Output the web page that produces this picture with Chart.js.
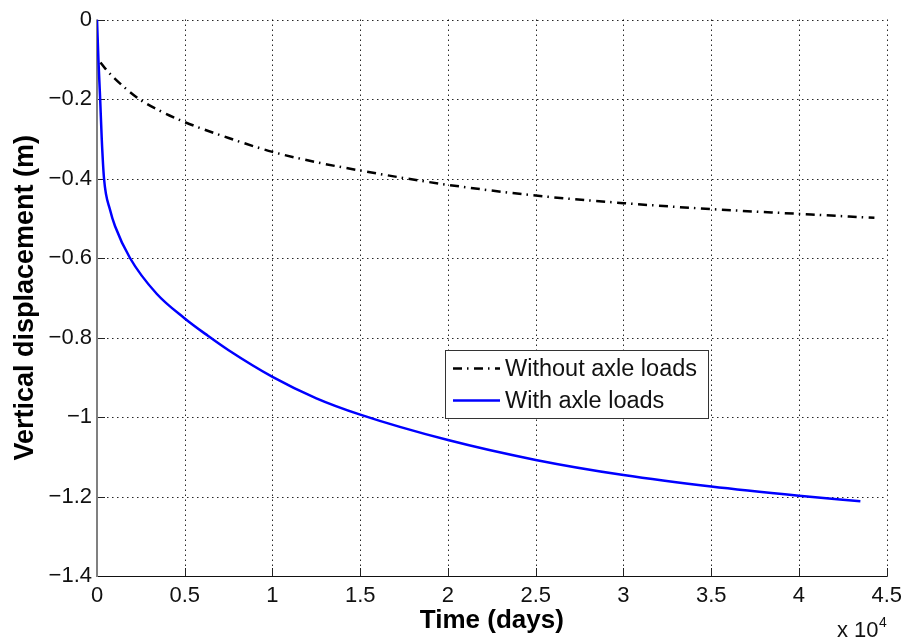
<!DOCTYPE html>
<html>
<head>
<meta charset="utf-8">
<script src="https://cdn.jsdelivr.net/npm/chart.js@4.4.0/dist/chart.umd.min.js"></script>
<style>
  html, body { margin: 0; padding: 0; background: #ffffff; }
  #wrap { width: 909px; height: 639px; position: relative; }
</style>
</head>
<body>
<div id="wrap"><canvas id="chart" width="909" height="639"></canvas></div>
<script>
// Time in units of 10^4 days, vertical displacement in metres
const timeNoAxle = [0.02, 0.05, 0.1, 0.17, 0.246, 0.35, 0.5, 0.75, 1.0, 1.25, 1.5, 1.75, 2.0, 2.5, 3.0, 3.5, 4.0, 4.43];
const dispNoAxle = [-0.108, -0.125, -0.148, -0.176, -0.202, -0.228, -0.258, -0.298, -0.333, -0.359, -0.380, -0.399, -0.416, -0.443, -0.462, -0.477, -0.489, -0.499];

const timeAxle = [0, 0.008, 0.018, 0.027, 0.04, 0.075, 0.103, 0.188, 0.34, 0.5, 0.63, 0.75, 1.0, 1.25, 1.5, 2.0, 2.5, 3.0, 3.5, 4.0, 4.35];
const dispAxle = [0, -0.1, -0.2, -0.3, -0.4, -0.48, -0.52, -0.6, -0.69, -0.752, -0.795, -0.832, -0.899, -0.953, -0.994, -1.058, -1.108, -1.146, -1.175, -1.198, -1.212];

const seriesLabels = ['Without axle loads', 'With axle loads'];
const xTicks = [0, 0.5, 1, 1.5, 2, 2.5, 3, 3.5, 4, 4.5];
const yTicks = [0, -0.2, -0.4, -0.6, -0.8, -1, -1.2, -1.4];
const xTitle = 'Time (days)';
const yTitle = 'Vertical displacement (m)';
const xExponent = '4';

const FONT = '"Liberation Sans", Arial, Helvetica, sans-serif';
const dashDot = [9, 5, 1.5, 5.5];

function pairs(xs, ys) { return xs.map((x, i) => ({ x: x, y: ys[i] })); }

function fmtTick(v) {
  const r = Math.round(v * 10) / 10;
  if (r === 0) return '0';
  return (r < 0 ? '\u2212' : '') + String(Math.abs(r));
}

// Dotted grid, axis lines with inward tick marks, in-plot legend and exponent note
const framePlugin = {
  id: 'frame',
  beforeDatasetsDraw(chart) {
    const { ctx, chartArea: a, scales: { x, y } } = chart;
    ctx.save();
    ctx.lineWidth = 1;
    ctx.strokeStyle = 'rgba(0,0,0,0.85)';
    ctx.setLineDash([1.5, 3.5]);
    x.ticks.forEach(t => {
      if (t.value === x.min) return;
      const px = Math.round(x.getPixelForValue(t.value)) + 0.5;
      ctx.beginPath(); ctx.moveTo(px, a.bottom); ctx.lineTo(px, a.top); ctx.stroke();
    });
    y.ticks.forEach(t => {
      if (t.value === y.min) return;
      const py = Math.round(y.getPixelForValue(t.value)) + 0.5;
      ctx.beginPath(); ctx.moveTo(a.left, py); ctx.lineTo(a.right, py); ctx.stroke();
    });
    ctx.setLineDash([]);
    ctx.strokeStyle = '#222';
    ctx.lineWidth = 1;
    y.ticks.forEach(t => {
      const py = Math.round(y.getPixelForValue(t.value)) + 0.5;
      ctx.beginPath(); ctx.moveTo(a.left, py); ctx.lineTo(a.left + 8, py); ctx.stroke();
    });
    x.ticks.forEach(t => {
      const px = Math.round(x.getPixelForValue(t.value)) + 0.5;
      ctx.beginPath(); ctx.moveTo(px, a.bottom); ctx.lineTo(px, a.bottom - 8); ctx.stroke();
    });
    ctx.strokeStyle = '#111';
    ctx.lineWidth = 1.2;
    ctx.beginPath(); ctx.moveTo(a.left, Math.round(a.bottom) + 0.5); ctx.lineTo(a.right + 1, Math.round(a.bottom) + 0.5); ctx.stroke();
    ctx.strokeStyle = '#808080';
    ctx.lineWidth = 2;
    ctx.beginPath(); ctx.moveTo(a.left, a.bottom + 1); ctx.lineTo(a.left, a.top); ctx.stroke();
    ctx.restore();
  },
  afterDraw(chart) {
    const { ctx } = chart;
    ctx.save();
    const bx = 445, by = 350, bw = 263, bh = 68;
    ctx.fillStyle = '#ffffff';
    ctx.fillRect(bx, by, bw, bh);
    ctx.strokeStyle = '#333';
    ctx.lineWidth = 1;
    ctx.strokeRect(bx + 0.5, by + 0.5, bw, bh);
    chart.data.datasets.forEach((ds, i) => {
      const ly = by + 18.5 + i * 32;
      ctx.strokeStyle = ds.borderColor;
      ctx.lineWidth = ds.borderWidth;
      ctx.setLineDash(ds.borderDash || []);
      ctx.beginPath(); ctx.moveTo(453, ly); ctx.lineTo(500, ly); ctx.stroke();
      ctx.setLineDash([]);
      ctx.fillStyle = '#111';
      ctx.font = '23.5px ' + FONT;
      ctx.textAlign = 'left';
      ctx.textBaseline = 'middle';
      ctx.fillText(ds.label, 505, ly + 1);
    });
    ctx.fillStyle = '#111';
    ctx.textBaseline = 'alphabetic';
    ctx.textAlign = 'left';
    ctx.font = '22px ' + FONT;
    ctx.fillText('x 10', 837, 637);
    ctx.font = '14px ' + FONT;
    ctx.fillText(xExponent, 879, 627);
    ctx.restore();
  }
};

new Chart(document.getElementById('chart'), {
  type: 'line',
  data: {
    datasets: [
      {
        label: seriesLabels[0],
        data: pairs(timeNoAxle, dispNoAxle),
        borderColor: '#000000',
        borderWidth: 2.5,
        borderDash: dashDot,
        pointRadius: 0,
        cubicInterpolationMode: 'monotone',
        fill: false
      },
      {
        label: seriesLabels[1],
        data: pairs(timeAxle, dispAxle),
        borderColor: '#0000ff',
        borderWidth: 2.5,
        pointRadius: 0,
        cubicInterpolationMode: 'monotone',
        fill: false
      }
    ]
  },
  options: {
    responsive: false,
    animation: false,
    devicePixelRatio: 1,
    layout: { padding: { top: 19.5, right: 18, left: 0, bottom: 0 } },
    plugins: { legend: { display: false }, tooltip: { enabled: false } },
    scales: {
      x: {
        type: 'linear',
        min: 0, max: 4.5,
        afterBuildTicks: s => { s.ticks = xTicks.map(v => ({ value: v })); },
        afterFit: s => { s.height = 63; },
        grid: { display: false, drawTicks: false },
        border: { display: false },
        ticks: {
          color: '#111', padding: 7, maxRotation: 0,
          font: { family: FONT, size: 22 },
          callback: v => fmtTick(v)
        },
        title: {
          display: true, text: xTitle, color: '#000',
          font: { family: FONT, size: 26, weight: 'bold' },
          padding: { top: 0, bottom: 3 }
        }
      },
      y: {
        type: 'linear',
        min: -1.4, max: 0,
        afterBuildTicks: s => { s.ticks = yTicks.map(v => ({ value: v })); },
        afterFit: s => { s.width = 97; },
        grid: { display: false, drawTicks: false },
        border: { display: false },
        ticks: {
          color: '#111', padding: 5,
          font: { family: FONT, size: 22 },
          callback: v => fmtTick(v)
        },
        title: {
          display: true, text: yTitle, color: '#000',
          font: { family: FONT, size: 27, weight: 'bold' },
          padding: { top: 9, bottom: 0 }
        }
      }
    }
  },
  plugins: [framePlugin]
});
</script>
</body>
</html>
